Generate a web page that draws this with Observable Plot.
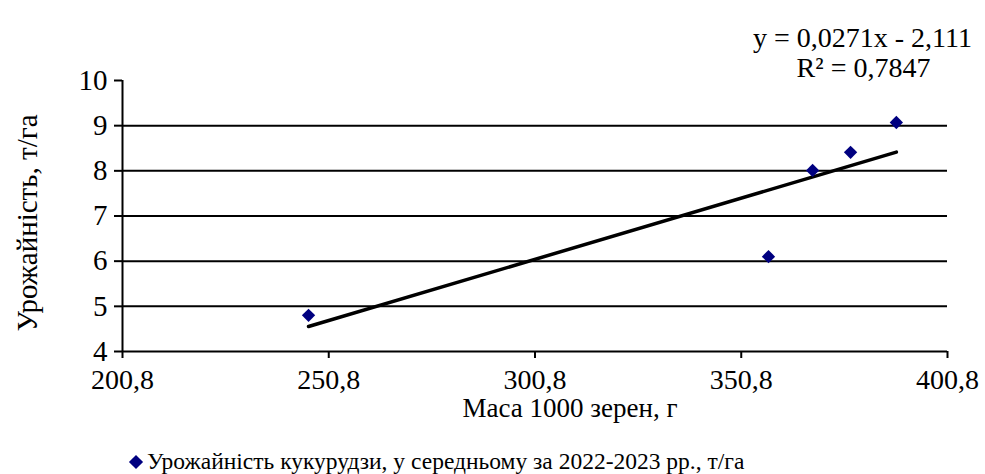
<!DOCTYPE html>
<html>
<head>
<meta charset="utf-8">
<script src="https://cdn.jsdelivr.net/npm/d3@7"></script>
<script src="https://cdn.jsdelivr.net/npm/@observablehq/plot@0.6"></script>
<style>
  html, body { margin: 0; padding: 0; background: #fff; font-family: 'Liberation Serif', serif; }
  #chart { width: 985px; height: 440px; }
  #chart svg text { font-family: 'Liberation Serif', serif; }
  .legend {
    font-family: 'Liberation Serif', serif;
    font-size: 23.5px;
    color: #000;
    height: 34px;
    line-height: 42px;
    padding-left: 131px;
    white-space: nowrap;
  }
  .legend .swatch {
    display: inline-block;
    width: 10px; height: 10px;
    background: #000080;
    transform: rotate(45deg);
    margin-right: 6px;
    vertical-align: 2px;
  }
</style>
</head>
<body>
<div id="chart"></div>
<script>
// Mass of 1000 kernels (g) and maize yield (t/ha), 2022-2023 average
const kernelMass = [245.9, 357.4, 368.1, 377.3, 388.4];
const yieldValues = [4.80, 6.10, 8.01, 8.41, 9.07];

// Fitted trend: y = 0.0271x - 2.111, R² = 0.7847
const trendSlope = [0.0271];
const trendIntercept = [-2.111];
const trendR2 = [0.7847];

const xTicks = [200.8, 250.8, 300.8, 350.8, 400.8];
const yTicks = [4, 5, 6, 7, 8, 9, 10];
const gridLevels = [5, 6, 7, 8, 9];

const xLabel = "Маса 1000 зерен, г";
const yLabel = "Урожайність, т/га";
const seriesName = "Урожайність кукурудзи, у середньому за 2022-2023 рр., т/га";

const points = kernelMass.map((m, i) => ({mass: m, yield: yieldValues[i]}));
const comma = (v, digits) => v.toFixed(digits).replace(".", ",");

const slope = trendSlope[0], intercept = trendIntercept[0];
const xMin = d3.min(kernelMass), xMax = d3.max(kernelMass);
const trend = [xMin, xMax].map(x => ({mass: x, yield: slope * x + intercept}));

const eqLine1 = `y = ${comma(slope, 4)}x - ${comma(-intercept, 3)}`;
const eqLine2 = `R² = ${comma(trendR2[0], 4)}`;

const font = "'Liberation Serif', serif";

const chart = Plot.plot({
  width: 985,
  height: 440,
  marginLeft: 122,
  marginRight: 38,
  marginTop: 80,
  marginBottom: 89,
  style: {fontFamily: font, fontSize: "29px", color: "#000", background: "#fff"},
  x: {domain: [200.8, 400.8]},
  y: {domain: [4, 10]},
  marks: [
    Plot.ruleY(gridLevels, {stroke: "#000", strokeWidth: 2}),
    Plot.ruleX([200.8], {stroke: "#000", strokeWidth: 2}),
    Plot.ruleY([4], {stroke: "#000", strokeWidth: 2}),
    Plot.axisY({ticks: yTicks, tickSize: 8, tickPadding: 7, tickFormat: d => String(d),
      label: null, stroke: "#000", strokeWidth: 2, fontSize: 29, fontFamily: font}),
    Plot.axisX({ticks: xTicks, tickSize: 7, tickPadding: 11, tickFormat: d => comma(d, 1),
      label: null, stroke: "#000", strokeWidth: 2, fontSize: 28, fontFamily: font}),
    Plot.line(trend, {x: "mass", y: "yield", stroke: "#000", strokeWidth: 3.5}),
    Plot.dot(points, {x: "mass", y: "yield", symbol: "diamond2", r: 6, fill: "#000080", stroke: "none"}),
    Plot.text([xLabel], {frameAnchor: "bottom", dx: 35, dy: 65, fontSize: 27, fontFamily: font}),
    Plot.text([yLabel], {frameAnchor: "left", dx: -95, dy: 7, rotate: -90, textAnchor: "middle", fontSize: 29, fontFamily: font}),
    Plot.text([eqLine1], {frameAnchor: "top-right", dx: -85, dy: -53, textAnchor: "middle", fontSize: 28, fontFamily: font}),
    Plot.text([eqLine2], {frameAnchor: "top-right", dx: -84, dy: -23, textAnchor: "middle", fontSize: 28, fontFamily: font})
  ]
});

document.getElementById("chart").appendChild(chart);

const legend = document.createElement("div");
legend.className = "legend";
legend.innerHTML = `<span class="swatch"></span>${seriesName}`;
document.body.appendChild(legend);
</script>
</body>
</html>
